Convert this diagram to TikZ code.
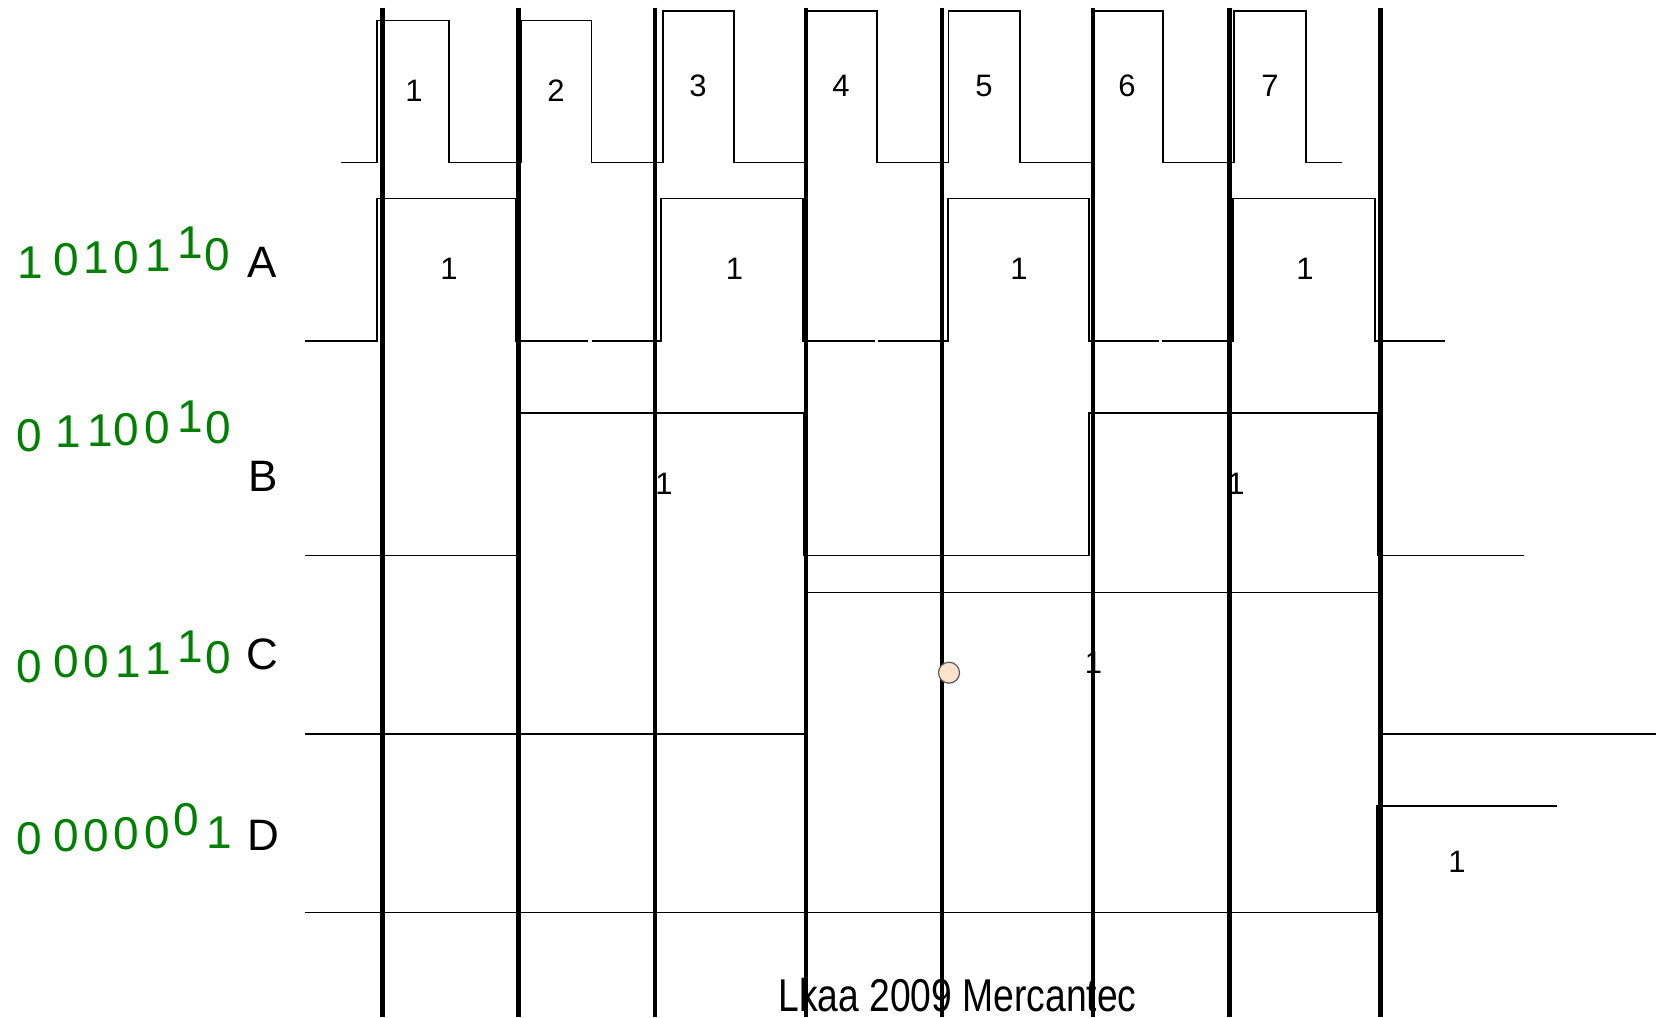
\documentclass[tikz,border=0pt]{standalone}
\usepackage{fontspec}
\setmainfont{Liberation Sans}
\usepackage{xcolor}
\usepackage{tikz}
\definecolor{bitgreen}{RGB}{0,128,0}
\definecolor{dotfill}{RGB}{250,226,205}

\begin{document}
\begin{tikzpicture}[
      x=1pt, y=-1pt,
      wave/.style={draw, line width=1.6pt},
      strobe/.style={draw, line width=4.5pt},
      bit/.style={text=bitgreen, inner sep=0pt, font=\fontsize{46}{50}\selectfont},
      signame/.style={inner sep=0pt, font=\fontsize{44}{48}\selectfont},
      pulse/.style={inner sep=0pt, font=\fontsize{31}{34}\selectfont}
    ]
    \useasboundingbox (0,0) rectangle (1656,1017);

    % clock
    \path [wave] (341,162.6) -- (377,162.6) -- (377,20.5) -- (449,20.5) -- (449,162.6)
      -- (521,162.6) -- (521,20.5) -- (591.5,20.5) -- (591.5,162.6)
      -- (663,162.6) -- (663,11) -- (734,11) -- (734,162.6)
      -- (807,162.6) -- (807,11) -- (877,11) -- (877,162.6)
      -- (948.5,162.6) -- (948.5,11) -- (1020,11) -- (1020,162.6)
      -- (1094,162.6) -- (1094,11) -- (1163,11) -- (1163,162.6)
      -- (1234,162.6) -- (1234,11) -- (1306,11) -- (1306,162.6) -- (1342,162.6);

    % A
    \path [wave] (305,341) -- (377,341) -- (377,198.5) -- (516,198.5) -- (516,341) -- (588,341);
    \path [wave] (591.5,341) -- (661,341) -- (661,198.5) -- (803,198.5) -- (803,341) -- (874.5,341);
    \path [wave] (877.5,341) -- (948,341) -- (948,198.5) -- (1089,198.5) -- (1089,341) -- (1159,341);
    \path [wave] (1162,341) -- (1233,341) -- (1233,198.5) -- (1375,198.5) -- (1375,341) -- (1445,341);

    % B
    \path [wave] (305,555.5) -- (517,555.5) -- (517,413) -- (804,413) -- (804,555.5)
      -- (1089,555.5) -- (1089,413) -- (1378,413) -- (1378,555.5) -- (1524,555.5);

    % C
    \path [wave] (305,734) -- (806,734) -- (806,592.5) -- (1379,592.5) -- (1379,734) -- (1656,734);

    % D
    \path [wave] (305,912.5) -- (1377,912.5) -- (1377,806) -- (1557,806);

    % clock numbers
    \node [pulse] (p1) at (414,91) {1};
    \node [pulse] (p2) at (556,91) {2};
    \node [pulse] (p3) at (698,86) {3};
    \node [pulse] (p4) at (841,86) {4};
    \node [pulse] (p5) at (984,86) {5};
    \node [pulse] (p6) at (1127,86) {6};
    \node [pulse] (p7) at (1270,86) {7};

    % ones on the signals
    \node [pulse] (a1) at (449,269) {1};
    \node [pulse] (a2) at (734.5,269) {1};
    \node [pulse] (a3) at (1019,269) {1};
    \node [pulse] (a4) at (1305,269) {1};
    \node [pulse] (b1) at (664,484) {1};
    \node [pulse] (b2) at (1236,484) {1};
    \node [pulse] (c1) at (1093.5,663) {1};
    \node [pulse] (d1) at (1457,862) {1};

    % bit strings
    \foreach \d/\x/\y [count=\i] in {1/30/262.7, 0/66/259.7, 1/96/258, 0/126/257.5, 1/158/256, 1/190/243, 0/217/254.7}
      \node [bit] (bita\i) at (\x,\y) {\d};
    \foreach \d/\x/\y [count=\i] in {0/29/435.5, 1/68/432, 1/100/430.5, 0/126/430, 0/157.5/428, 1/190/416.7, 0/218/428}
      \node [bit] (bitb\i) at (\x,\y) {\d};
    \foreach \d/\x/\y [count=\i] in {0/29/666.5, 0/66/662, 0/96/662, 1/128/661.5, 1/158/659, 1/190/647, 0/218/658}
      \node [bit] (bitc\i) at (\x,\y) {\d};
    \foreach \d/\x/\y [count=\i] in {0/29/839, 0/66/835.5, 0/96/835.5, 0/126/834, 0/157/832.5, 0/186.5/820, 1/219/833}
      \node [bit] (bitd\i) at (\x,\y) {\d};

    \node [signame] (namea) at (262.5,262) {A};
    \node [signame] (nameb) at (263,476) {B};
    \node [signame] (namec) at (262,654) {C};
    \node [signame] (named) at (263,835) {D};

    \node [signame, font=\fontsize{46}{50}\selectfont, xscale=0.81] (credit) at (957.5,995) {Lkaa 2009 Mercantec};

    % strobe lines
    \foreach \x in {382.3, 518.5, 654.8, 805.8, 942, 1093.1, 1229.3, 1380.3}
      \path [strobe] (\x,7.5) -- (\x,1017);

    \node [circle, draw=black!65, fill=dotfill, line width=1.2pt, minimum size=21pt, inner sep=0pt] (dot) at (949,672.7) {};

\end{tikzpicture}
\end{document}
